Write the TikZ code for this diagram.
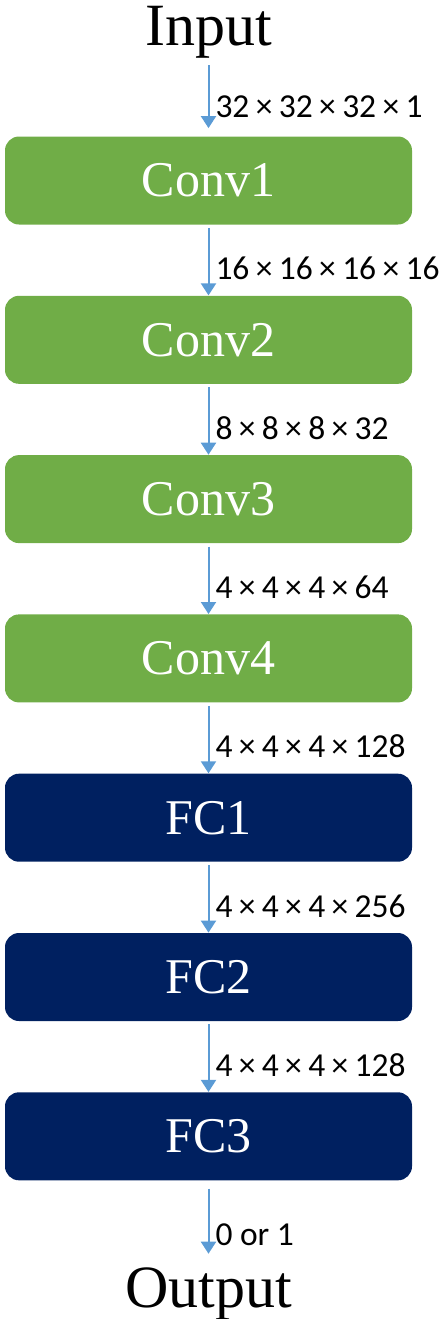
\documentclass[tikz,border=0pt]{standalone}
\usepackage{fontspec}
\setmainfont{Liberation Serif}
\newfontfamily\lblfont{Carlito}
\usetikzlibrary{arrows.meta, positioning}
\definecolor{cnngreen}{RGB}{112, 173, 71}
\definecolor{cnnnavy}{RGB}{0, 32, 96}
\definecolor{cnnblue}{RGB}{91, 155, 213}
\newcommand{\tms}{\kern0.19em×\kern0.19em}
\tikzset{
  gbox/.style={
    rectangle, rounded corners=7pt,
    draw=none, fill=cnngreen, text=white,
    minimum width=203.5pt, minimum height=44pt,
    font=\fontsize{25}{30}\selectfont
  },
  nbox/.style={gbox, fill=cnnnavy},
  iotext/.style={inner sep=0pt, font=\fontsize{30}{36}\selectfont},
  lbl/.style={right, pos=0.62, inner sep=3pt, text=black, font=\lblfont\fontsize{16.75}{20}\selectfont},
  arr/.style={-{Triangle[width=7.5pt, length=6pt]}, line width=1pt, color=cnnblue, shorten <=1.5pt},
}
\begin{document}
\begin{tikzpicture}[node distance=35.25pt]
  \useasboundingbox (0,0) rectangle (221.5pt,-659.5pt);
  \node[gbox] (conv1) at (104.25pt,-90.25pt) {Conv1};
  \node[gbox, below=of conv1] (conv2) {Conv2};
  \node[gbox, below=of conv2] (conv3) {Conv3};
  \node[gbox, below=of conv3] (conv4) {Conv4};
  \node[nbox, below=of conv4] (fc1) {FC1};
  \node[nbox, below=of fc1]   (fc2) {FC2};
  \node[nbox, below=of fc2]   (fc3) {FC3};
  \node[iotext, above=38.5pt of conv1] (in)  {Input};
  \node[iotext, below=43.5pt of fc3]   (out) {Output};
  % sizes of the feature maps
  \draw[arr, shorten <=3pt, shorten >=4pt] (in) -- node[lbl] {32\tms32\tms32\tms1} (conv1);
  \draw[arr] (conv1) -- node[lbl] {16\tms16\tms16\tms16} (conv2);
  \draw[arr] (conv2) -- node[lbl] {8\tms8\tms8\tms32} (conv3);
  \draw[arr] (conv3) -- node[lbl] {4\tms4\tms4\tms64} (conv4);
  \draw[arr] (conv4) -- node[lbl] {4\tms4\tms4\tms128} (fc1);
  \draw[arr] (fc1) -- node[lbl] {4\tms4\tms4\tms256} (fc2);
  \draw[arr] (fc2) -- node[lbl] {4\tms4\tms4\tms128} (fc3);
  \draw[arr, shorten <=4pt, shorten >=7pt] (fc3) -- node[lbl] {0 or 1} (out);
\end{tikzpicture}
\end{document}
